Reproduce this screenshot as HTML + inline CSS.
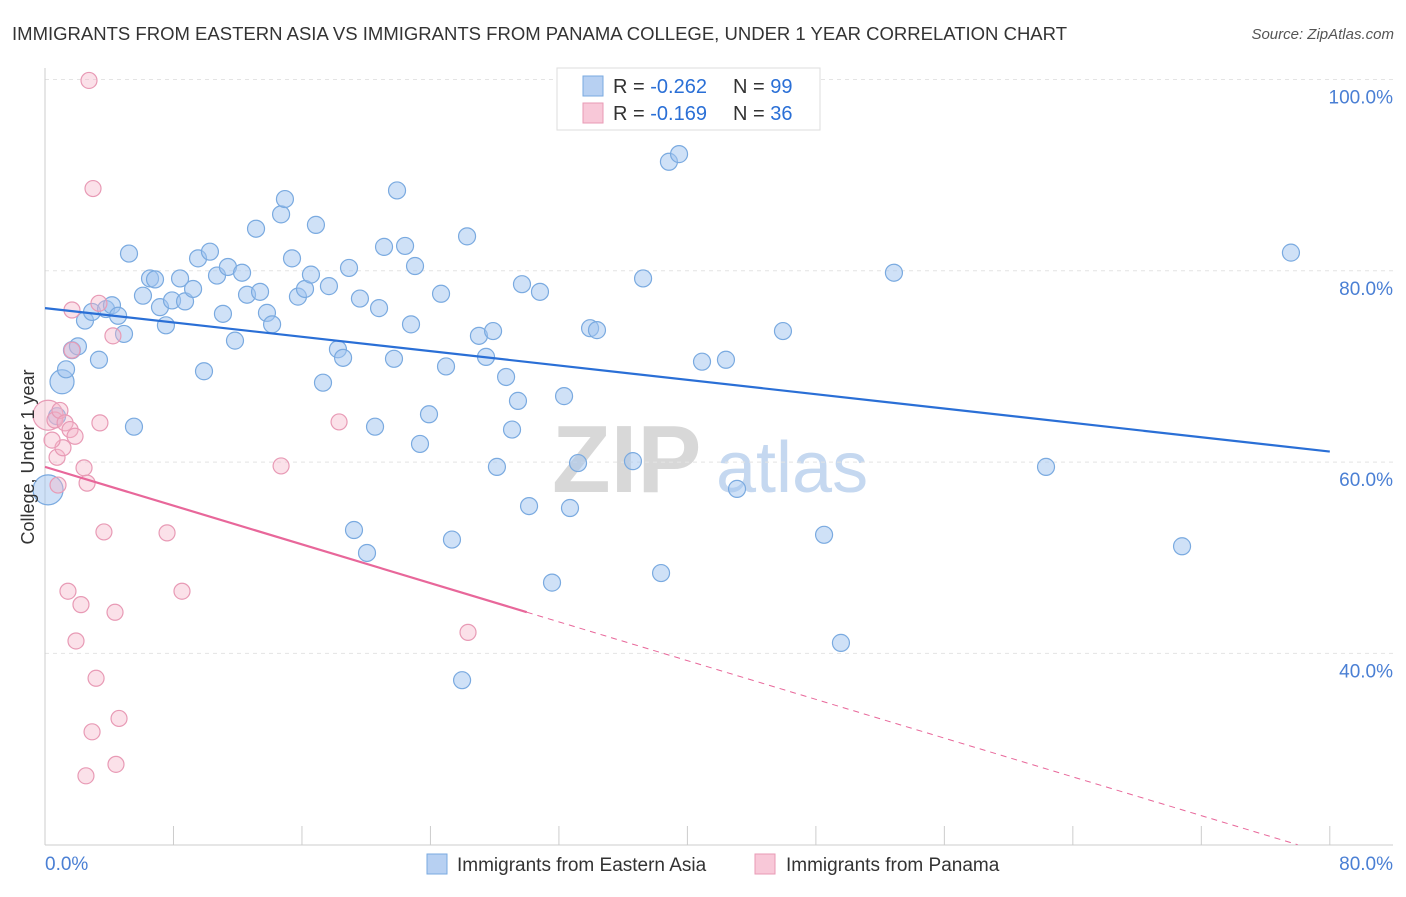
<!DOCTYPE html>
<html><head><meta charset="utf-8"><style>
body{margin:0;background:#fff;font-family:"Liberation Sans",sans-serif;}
svg text{font-family:"Liberation Sans",sans-serif;}
</style></head><body>
<svg id="chart" width="1406" height="892" viewBox="0 0 1406 892" xmlns="http://www.w3.org/2000/svg">
<text x="12" y="40" font-size="18" fill="#333" textLength="1055" lengthAdjust="spacingAndGlyphs">IMMIGRANTS FROM EASTERN ASIA VS IMMIGRANTS FROM PANAMA COLLEGE, UNDER 1 YEAR CORRELATION CHART</text>
<text x="1394" y="39" font-size="15" fill="#555" text-anchor="end" font-style="italic">Source: ZipAtlas.com</text>
<g>
<text x="552" y="492" font-size="96" fill="#d8d8d8" font-family="Liberation Serif" font-weight="bold">ZIP</text>
<text x="716" y="492" font-size="72" fill="#c5d8f0">atlas</text>
</g>
<g id="grid"></g>
<g id="axes"></g>
<g id="marks"></g>
<text transform="translate(34,457) rotate(-90)" font-size="18" fill="#333" text-anchor="middle">College, Under 1 year</text>
<g>
<rect x="557" y="68" width="263" height="62" fill="#fff" stroke="#ddd"/>
<rect x="583" y="76" width="20" height="20" fill="#b7d0f2" stroke="#7aaae0"/>
<text x="613" y="93" font-size="20" fill="#333">R = <tspan fill="#2a6fd6">-0.262</tspan></text>
<text x="733" y="93" font-size="20" fill="#333">N = <tspan fill="#2a6fd6">99</tspan></text>
<rect x="583" y="103" width="20" height="20" fill="#f8c8d8" stroke="#e89ab5"/>
<text x="613" y="120" font-size="20" fill="#333">R = <tspan fill="#2a6fd6">-0.169</tspan></text>
<text x="733" y="120" font-size="20" fill="#333">N = <tspan fill="#2a6fd6">36</tspan></text>
</g>
<g>
<rect x="427" y="854" width="20" height="20" fill="#b7d0f2" stroke="#7aaae0"/>
<text x="457" y="871" font-size="19" fill="#333">Immigrants from Eastern Asia</text>
<rect x="755" y="854" width="20" height="20" fill="#f8c8d8" stroke="#e89ab5"/>
<text x="786" y="871" font-size="19" fill="#333">Immigrants from Panama</text>
</g>
</svg>
<script>
const blueX=[0.19,1.06,1.31,0.75,1.68,2.05,2.49,2.93,3.36,3.80,4.17,4.55,4.92,5.23,5.54,6.10,6.54,6.85,7.16,7.53,7.91,8.41,8.72,9.22,9.53,9.90,10.27,10.71,11.08,11.39,11.83,12.27,12.58,13.14,13.39,13.82,14.14,14.70,14.94,15.38,15.75,16.19,16.56,16.87,17.31,17.68,18.24,18.56,18.93,19.24,19.61,20.05,20.55,20.80,21.11,21.73,21.92,22.42,22.79,23.04,23.35,23.91,24.66,24.97,25.34,25.97,26.28,27.02,27.46,27.90,28.14,28.71,29.08,29.45,30.14,29.70,30.82,31.57,32.32,32.69,33.19,33.94,34.37,36.61,37.24,38.36,38.85,39.48,40.91,42.40,43.09,45.95,48.51,49.56,52.86,62.33,70.80,77.58,37.7];
const blueY=[57.1,68.4,69.7,64.8,71.7,72.1,74.8,75.7,70.7,76.0,76.4,75.3,73.4,81.8,63.7,77.4,79.2,79.1,76.2,74.3,76.9,79.2,76.8,78.1,81.3,69.5,82.0,79.5,75.5,80.4,72.7,79.8,77.5,84.4,77.8,75.6,74.4,85.9,87.5,81.3,77.3,78.1,79.6,84.8,68.3,78.4,71.8,70.9,80.3,52.9,77.1,50.5,63.7,76.1,82.5,70.8,88.4,82.6,74.4,80.5,61.9,65.0,77.6,70.0,51.9,37.2,83.6,73.2,71.0,73.7,59.5,68.9,63.4,66.4,55.4,78.6,77.8,47.4,66.9,55.2,59.9,74.0,73.8,60.1,79.2,48.4,91.4,92.2,70.5,70.7,57.2,73.7,52.4,41.1,79.8,59.5,51.2,81.9,96.6];
const pinkX=[2.74,2.99,1.68,3.36,1.68,4.23,0.19,0.62,0.93,1.25,1.56,1.87,0.75,1.12,2.43,2.62,3.42,3.67,7.60,1.43,2.24,4.36,8.53,1.93,3.18,2.93,4.61,2.55,4.42,14.70,18.31,26.34,0.44,0.81];
const pinkY=[99.9,88.6,71.7,76.6,75.9,73.2,64.9,64.4,65.4,64.1,63.4,62.7,60.5,61.5,59.4,57.8,64.1,52.7,52.6,46.5,45.1,44.3,46.5,41.3,37.4,31.8,33.2,27.2,28.4,59.6,64.2,42.2,62.3,57.6];
const blueTrend=[76.1,61.1];
const pinkTrend=[59.5,20.0];
const pinkSolidEnd=30.0;
const yTicks=[40,60,80,100];
const xTickVals=[0,8,16,24,32,40,48,56,64,72,80];
const NS="http://www.w3.org/2000/svg";
const X=v=>45+v*16.06;
const Y=v=>1036-v*9.565;
function mk(tag,attrs,parent){const e=document.createElementNS(NS,tag);for(const k in attrs)e.setAttribute(k,attrs[k]);parent.appendChild(e);return e;}
const grid=document.getElementById('grid'),axes=document.getElementById('axes'),marks=document.getElementById('marks');
yTicks.forEach(t=>{
 const l=mk('line',{x1:45,x2:1393,y1:Y(t),y2:Y(t),stroke:'#e4e4e4','stroke-dasharray':'4,4'},grid);
 
 
 const tx=mk('text',{x:1393,y:Y(t)+24,'font-size':19,fill:'#4a7fd4','text-anchor':'end'},axes);
 tx.textContent=t.toFixed(1)+'%';
 
 
});
const xa=mk('line',{x1:45,x2:1393,y1:845,y2:845,stroke:'#ccc'},axes);


const ya=mk('line',{x1:45,x2:45,y1:68,y2:845,stroke:'#ccc'},axes);


xTickVals.forEach(t=>{
 const l=mk('line',{x1:X(t),x2:X(t),y1:826,y2:845,stroke:'#ccc'},axes);
 
 
});
const xl0=mk('text',{x:45,y:870,'font-size':19,fill:'#4a7fd4'},axes);xl0.textContent=xTickVals[0].toFixed(1)+'%';


const xl1=mk('text',{x:1393,y:870,'font-size':19,fill:'#4a7fd4','text-anchor':'end'},axes);xl1.textContent=xTickVals[xTickVals.length-1].toFixed(1)+'%';


blueX.forEach((v,i)=>{
 const c=mk('circle',{cx:X(v),cy:Y(blueY[i]),r:i===0?15:(i===1?12:8.5),fill:'rgba(160,196,240,0.5)',stroke:'#7aaae0','stroke-width':1.2},marks);
 
 
});
pinkX.forEach((v,i)=>{
 const c=mk('circle',{cx:X(v),cy:Y(pinkY[i]),r:i===6?15:8,fill:'rgba(245,180,200,0.4)',stroke:'#e89ab5','stroke-width':1.2},marks);
 
 
});
const bl=mk('line',{x1:X(0),y1:Y(blueTrend[0]),x2:X(80),y2:Y(blueTrend[1]),stroke:'#2a6fd6','stroke-width':2.2},marks);


const slope=(pinkTrend[1]-pinkTrend[0])/78;
const pl=mk('line',{x1:X(0),y1:Y(pinkTrend[0]),x2:X(pinkSolidEnd),y2:Y(pinkTrend[0]+slope*pinkSolidEnd),stroke:'#e8679a','stroke-width':2.2},marks);


const pd=mk('line',{x1:X(pinkSolidEnd),y1:Y(pinkTrend[0]+slope*pinkSolidEnd),x2:X(78),y2:Y(pinkTrend[1]),stroke:'#e8679a','stroke-width':1,'stroke-dasharray':'6,5'},marks);


</script>
</body></html>
